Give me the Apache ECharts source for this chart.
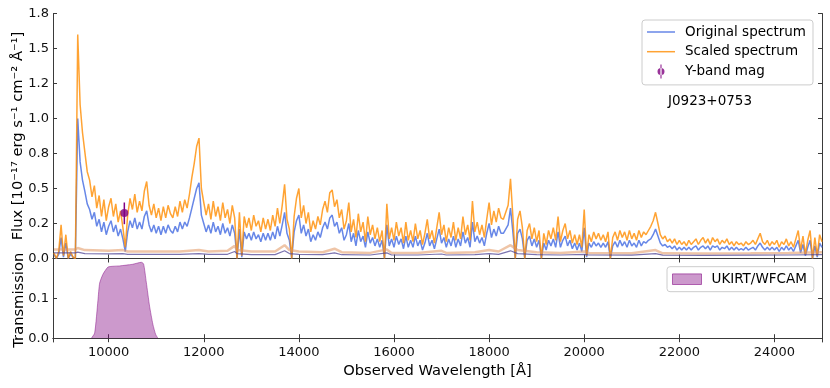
<!DOCTYPE html>
<html><head><meta charset="utf-8">
<script src="https://cdn.jsdelivr.net/npm/echarts@6/dist/echarts.min.js"></script>
<style>html,body{margin:0;padding:0;background:#fff}#c{width:830px;height:388px}</style>
</head><body><div id="c"></div>
<script>
// spectral sampling grid (Angstrom)
const WAVE_START = 8850, WAVE_STEP = 50;

// Scaled spectrum flux (1e-17 erg/s/cm2/A), 8850..25000 step 50
const scaledFlux = [
0.04,0.0,0.05,0.24,0.02,0.17,0.0,0.05,0.01,0.0,
1.6,1.1,0.9,0.76,0.62,0.56,0.44,0.52,0.36,0.45,
0.3,0.42,0.27,0.37,0.43,0.3,0.39,0.26,0.34,0.22,
0.08,0.31,0.43,0.35,0.46,0.33,0.41,0.34,0.48,0.55,
0.38,0.31,0.39,0.29,0.36,0.27,0.37,0.29,0.38,0.32,
0.29,0.37,0.3,0.41,0.33,0.42,0.36,0.46,0.58,0.68,
0.8,0.86,0.5,0.4,0.31,0.39,0.28,0.41,0.3,0.37,
0.27,0.4,0.29,0.35,0.25,0.38,0.29,0.0,0.33,0.02,
0.3,0.22,0.29,0.2,0.31,0.23,0.27,0.19,0.29,0.21,
0.28,0.2,0.31,0.23,0.36,0.25,0.38,0.53,0.28,0.21,
0.0,0.3,0.43,0.5,0.29,0.38,0.25,0.33,0.19,0.27,
0.21,0.3,0.24,0.35,0.41,0.33,0.47,0.49,0.37,0.42,
0.29,0.35,0.21,0.27,0.4,0.19,0.28,0.15,0.32,0.19,
0.26,0.12,0.3,0.17,0.24,0.14,0.22,0.12,0.2,0.0,
0.39,0.14,0.22,0.13,0.26,0.16,0.22,0.11,0.26,0.13,
0.2,0.12,0.25,0.14,0.2,0.1,0.18,0.28,0.14,0.2,
0.11,0.22,0.33,0.17,0.24,0.12,0.22,0.15,0.26,0.13,
0.22,0.14,0.3,0.17,0.24,0.13,0.41,0.19,0.26,0.17,
0.24,0.15,0.28,0.4,0.24,0.34,0.26,0.36,0.29,0.28,
0.33,0.38,0.57,0.3,0.0,0.28,0.34,0.22,0.0,0.2,
0.25,0.14,0.22,0.12,0.2,0.0,0.18,0.1,0.2,0.14,
0.22,0.13,0.3,0.12,0.2,0.25,0.14,0.2,0.11,0.17,
0.1,0.17,0.08,0.35,0.02,0.17,0.12,0.19,0.14,0.18,
0.13,0.17,0.12,0.19,0.0,0.15,0.19,0.13,0.2,0.15,
0.19,0.13,0.2,0.14,0.18,0.13,0.2,0.15,0.19,0.17,
0.2,0.23,0.27,0.33,0.25,0.17,0.14,0.16,0.12,0.14,
0.11,0.14,0.1,0.13,0.1,0.12,0.09,0.13,0.1,0.12,
0.14,0.1,0.13,0.15,0.11,0.14,0.1,0.15,0.12,0.14,
0.1,0.13,0.11,0.14,0.1,0.12,0.09,0.12,0.1,0.11,
0.09,0.12,0.1,0.11,0.13,0.1,0.14,0.18,0.12,0.1,
0.13,0.09,0.12,0.1,0.13,0.08,0.12,0.1,0.14,0.09,
0.12,0.08,0.14,0.2,0.06,0.16,0.03,0.13,0.2,0.0,
0.15,0.02,0.17,0.12
];

// Original spectrum flux, same grid
const originalFlux = [
0.03,0.0,0.03,0.15,0.01,0.11,0.0,0.03,0.01,0.0,
1.0,0.69,0.56,0.48,0.39,0.35,0.28,0.33,0.23,0.28,
0.19,0.26,0.17,0.23,0.27,0.19,0.24,0.16,0.21,0.14,
0.05,0.19,0.27,0.22,0.29,0.21,0.26,0.21,0.3,0.34,
0.24,0.19,0.24,0.18,0.23,0.17,0.23,0.18,0.24,0.2,
0.18,0.23,0.19,0.26,0.21,0.26,0.23,0.29,0.36,0.43,
0.5,0.54,0.31,0.25,0.19,0.24,0.18,0.26,0.19,0.23,
0.17,0.25,0.18,0.22,0.16,0.24,0.18,0.0,0.21,0.01,
0.19,0.14,0.18,0.13,0.19,0.14,0.17,0.12,0.18,0.13,
0.18,0.13,0.19,0.14,0.23,0.16,0.24,0.33,0.18,0.13,
0.0,0.19,0.27,0.31,0.18,0.24,0.16,0.21,0.12,0.17,
0.13,0.19,0.15,0.22,0.26,0.21,0.29,0.31,0.23,0.26,
0.18,0.22,0.13,0.17,0.25,0.12,0.18,0.09,0.2,0.12,
0.16,0.08,0.19,0.11,0.15,0.09,0.14,0.08,0.13,0.0,
0.24,0.09,0.14,0.08,0.16,0.1,0.14,0.07,0.16,0.08,
0.13,0.08,0.16,0.09,0.13,0.06,0.11,0.18,0.09,0.13,
0.07,0.14,0.21,0.11,0.15,0.08,0.14,0.09,0.16,0.08,
0.14,0.09,0.19,0.11,0.15,0.08,0.26,0.12,0.16,0.11,
0.15,0.09,0.18,0.25,0.15,0.21,0.16,0.23,0.18,0.18,
0.21,0.24,0.36,0.19,0.0,0.18,0.21,0.14,0.0,0.13,
0.16,0.09,0.14,0.08,0.13,0.0,0.11,0.06,0.13,0.09,
0.14,0.08,0.19,0.08,0.13,0.16,0.09,0.13,0.07,0.11,
0.06,0.11,0.05,0.22,0.01,0.11,0.08,0.12,0.09,0.11,
0.08,0.11,0.08,0.12,0.0,0.09,0.12,0.08,0.13,0.09,
0.12,0.08,0.13,0.09,0.11,0.08,0.13,0.09,0.12,0.11,
0.13,0.14,0.17,0.21,0.16,0.11,0.09,0.1,0.08,0.09,
0.07,0.09,0.06,0.08,0.06,0.08,0.06,0.08,0.06,0.08,
0.09,0.06,0.08,0.09,0.07,0.09,0.06,0.09,0.08,0.09,
0.06,0.08,0.07,0.09,0.06,0.08,0.06,0.08,0.06,0.07,
0.06,0.08,0.06,0.07,0.08,0.06,0.09,0.11,0.08,0.06,
0.08,0.06,0.08,0.06,0.08,0.05,0.08,0.06,0.09,0.06,
0.08,0.05,0.09,0.13,0.04,0.1,0.02,0.08,0.13,0.0,
0.09,0.01,0.11,0.08
];

// Flux errors
const errWave = [8850,9300,9350,9500,10000,10300,10400,11000,11500,11900,12100,12500,12650,12700,13000,13500,13700,13800,14000,14500,14750,14900,15500,15850,15950,16500,17000,17100,17700,18000,18200,18450,18600,19000,19500,20000,20100,21000,21500,21650,22500,23500,24300,25000];
const errScaled = [0.065,0.065,0.075,0.06,0.055,0.06,0.05,0.05,0.05,0.06,0.05,0.055,0.09,0.06,0.05,0.05,0.095,0.06,0.05,0.045,0.07,0.045,0.04,0.065,0.04,0.04,0.055,0.04,0.045,0.06,0.05,0.095,0.06,0.045,0.04,0.05,0.04,0.037,0.06,0.037,0.036,0.037,0.04,0.045];
const errOriginal = [0.04,0.04,0.045,0.035,0.033,0.035,0.03,0.03,0.03,0.035,0.03,0.03,0.05,0.035,0.028,0.028,0.055,0.035,0.03,0.028,0.04,0.027,0.025,0.04,0.025,0.025,0.032,0.025,0.027,0.035,0.03,0.055,0.035,0.027,0.025,0.03,0.025,0.024,0.035,0.024,0.023,0.024,0.025,0.028];

// Y-band photometry
const yBandWave = 10330, yBandFlux = 0.325, yBandLow = 0.245, yBandHigh = 0.40;

// UKIRT/WFCAM Y filter
const filterWave = [9637,9706,9775,9811,9880,9985,10084,10231,10504,10687,10735,10792,10861,10930,10987,11035];
const filterTrans = [0,0.013,0.095,0.138,0.16,0.178,0.18,0.181,0.185,0.19,0.186,0.14,0.08,0.035,0.01,0];

// ticks
const xTicks = [10000,12000,14000,16000,18000,20000,22000,24000];
const fluxTicks = [0,0.25,0.5,0.75,1.0,1.25,1.5,1.75];
const fluxTickLabels = ['0.0','0.2','0.5','0.8','1.0','1.2','1.5','1.8'];
const transTicks = [0,0.1];
const transTickLabels = ['0.0','0.1'];

const waves = scaledFlux.map((_, i) => WAVE_START + i * WAVE_STEP);
const zip = (xs, ys) => xs.map((x, i) => [x, ys[i]]);
const pick = (ticks, labels) => v => { const i = ticks.findIndex(t => Math.abs(t - v) < 1e-9); return i < 0 ? '' : labels[i]; };

const FONT = 'DejaVu Sans';
const AX = '#3a3a3a';
const C_ORIG = 'rgba(65,105,225,0.8)';
const C_SCAL = 'rgba(255,140,0,0.8)';
const C_FILT = 'rgba(128,0,128,0.4)';
const LINE_ICON = 'path://M0,6.25 L28,6.25 L28,7.75 L0,7.75 Z';
const tickIn = vals => ({ show: true, inside: true, length: 4, lineStyle: { color: AX, width: 1 }, customValues: vals });
const lineAx = { show: true, lineStyle: { color: AX, width: 1 } };

const chart = echarts.init(document.getElementById('c'), null, { renderer: 'canvas' });
chart.setOption({
  animation: false,
  textStyle: { fontFamily: FONT },
  title: { text: 'J0923+0753', left: 668, top: 94, padding: 0, textStyle: { fontFamily: FONT, fontSize: 13.5, fontWeight: 'normal', color: '#000' } },
  grid: [
    { left: 53, right: 8, top: 13.5, height: 245, outerBoundsMode: 'none', containLabel: false },
    { left: 53, right: 8, top: 258.5, height: 83.5, outerBoundsMode: 'none', containLabel: false }
  ],
  xAxis: [
    { gridIndex: 0, type: 'value', min: 8830, max: 25000, position: 'bottom', axisLine: lineAx, axisTick: tickIn(xTicks), axisLabel: { show: false }, splitLine: { show: false } },
    { gridIndex: 0, type: 'value', min: 8830, max: 25000, position: 'top', axisLine: lineAx, axisTick: tickIn(xTicks), axisLabel: { show: false }, splitLine: { show: false } },
    { gridIndex: 1, type: 'value', min: 8830, max: 25000, position: 'bottom', axisLine: lineAx, axisTick: tickIn(xTicks),
      axisLabel: { show: true, customValues: xTicks, margin: 4, fontSize: 13, color: '#111', fontFamily: FONT, formatter: v => String(v) },
      splitLine: { show: false },
      name: 'Observed Wavelength [Å]', nameLocation: 'middle', nameGap: 22, nameMoveOverlap: false, nameTextStyle: { fontSize: 14.7, color: '#000', fontFamily: FONT, verticalAlign: 'top' } },
    { gridIndex: 1, type: 'value', min: 8830, max: 25000, position: 'top', axisLine: lineAx, axisTick: tickIn(xTicks), axisLabel: { show: false }, splitLine: { show: false } }
  ],
  yAxis: [
    { gridIndex: 0, type: 'value', min: 0, max: 1.75, position: 'left', axisLine: lineAx, axisTick: tickIn(fluxTicks),
      axisLabel: { show: true, customValues: fluxTicks, margin: 4, fontSize: 13, color: '#111', fontFamily: FONT, formatter: pick(fluxTicks, fluxTickLabels) },
      splitLine: { show: false },
      name: 'Flux [10⁻¹⁷ erg s⁻¹ cm⁻² Å⁻¹]', nameLocation: 'middle', nameRotate: 90, nameGap: 27, nameMoveOverlap: false, nameTextStyle: { fontSize: 14.7, color: '#000', fontFamily: FONT } },
    { gridIndex: 0, type: 'value', min: 0, max: 1.75, position: 'right', axisLine: lineAx, axisTick: tickIn(fluxTicks), axisLabel: { show: false }, splitLine: { show: false } },
    { gridIndex: 1, type: 'value', min: -0.0095, max: 0.1995, position: 'left', axisLine: lineAx, axisTick: tickIn(transTicks),
      axisLabel: { show: true, customValues: transTicks, margin: 4, fontSize: 13, color: '#111', fontFamily: FONT, formatter: pick(transTicks, transTickLabels) },
      splitLine: { show: false },
      name: 'Transmission', nameLocation: 'middle', nameRotate: 90, nameGap: 26.5, nameMoveOverlap: false, nameTextStyle: { fontSize: 14.7, color: '#000', fontFamily: FONT } },
    { gridIndex: 1, type: 'value', min: -0.0095, max: 0.1995, position: 'right', axisLine: lineAx, axisTick: tickIn(transTicks), axisLabel: { show: false }, splitLine: { show: false } }
  ],
  legend: [
    { data: [
        { name: 'Original spectrum', icon: LINE_ICON, itemStyle: { color: C_ORIG } },
        { name: 'Scaled spectrum', icon: LINE_ICON, itemStyle: { color: C_SCAL } },
        { name: 'Y-band mag', icon: 'path://M4.4,0 L5.6,0 L5.6,14 L4.4,14 Z M1.5,7 A3.5,3.5 0 1,0 8.5,7 A3.5,3.5 0 1,0 1.5,7 Z', itemStyle: { color: '#800080' } }],
      orient: 'vertical', left: 642, top: 20, itemWidth: 28, itemHeight: 14, itemGap: 5.7,
      padding: [5, 7, 6.5, 5], borderColor: '#cccccc', borderWidth: 1, borderRadius: 3, backgroundColor: 'rgba(255,255,255,0.8)',
      textStyle: { fontFamily: FONT, fontSize: 13.5, color: '#000', lineHeight: 14, padding: [0, 0, 0, 5] }, selectedMode: false },
    { data: [{ name: 'UKIRT/WFCAM', icon: 'rect', itemStyle: { color: C_FILT, borderColor: 'rgba(128,0,128,0.55)', borderWidth: 1 } }],
      orient: 'vertical', left: 667, top: 266.7, itemWidth: 29, itemHeight: 10.6,
      padding: [5.5, 7, 5.5, 5], borderColor: '#cccccc', borderWidth: 1, borderRadius: 3, backgroundColor: 'rgba(255,255,255,0.8)',
      textStyle: { fontFamily: FONT, fontSize: 13.5, color: '#000', lineHeight: 14, padding: [0, 0, 0, 5] }, selectedMode: false }
  ],
  series: [
    { name: 'Original spectrum', type: 'line', xAxisIndex: 0, yAxisIndex: 0, data: zip(waves, originalFlux), symbol: 'none',
      lineStyle: { color: C_ORIG, width: 1.5 }, itemStyle: { color: C_ORIG }, z: 2 },
    { name: 'Scaled spectrum', type: 'line', xAxisIndex: 0, yAxisIndex: 0, data: zip(waves, scaledFlux), symbol: 'none',
      lineStyle: { color: C_SCAL, width: 1.5 }, itemStyle: { color: C_SCAL }, z: 3 },
    { name: 'Scaled error', type: 'line', xAxisIndex: 0, yAxisIndex: 0, data: zip(errWave, errScaled), symbol: 'none',
      lineStyle: { color: 'rgba(225,150,95,0.55)', width: 2.5 }, z: 4 },
    { name: 'Original error', type: 'line', xAxisIndex: 0, yAxisIndex: 0, data: zip(errWave, errOriginal), symbol: 'none',
      lineStyle: { color: 'rgba(80,70,150,0.75)', width: 1.2 }, z: 5 },
    { name: 'Y-band err', type: 'custom', xAxisIndex: 0, yAxisIndex: 0, data: [[yBandWave, yBandLow, yBandHigh]], encode: { x: 0, y: [1, 2] },
      renderItem: (params, api) => {
        const a = api.coord([api.value(0), api.value(1)]);
        const b = api.coord([api.value(0), api.value(2)]);
        return { type: 'line', shape: { x1: a[0], y1: a[1], x2: b[0], y2: b[1] }, style: { stroke: '#800080', lineWidth: 1.5 } };
      }, z: 6 },
    { name: 'Y-band mag', type: 'scatter', xAxisIndex: 0, yAxisIndex: 0, data: [[yBandWave, yBandFlux]], symbol: 'circle', symbolSize: 8,
      itemStyle: { color: '#800080' }, z: 7 },
    { name: 'UKIRT/WFCAM', type: 'line', xAxisIndex: 2, yAxisIndex: 2, data: zip(filterWave, filterTrans), symbol: 'none', smooth: 0.2,
      lineStyle: { color: 'rgba(128,0,128,0.45)', width: 1 }, areaStyle: { color: C_FILT, opacity: 1 },
      itemStyle: { color: C_FILT } }
  ]
});
</script></body></html>
